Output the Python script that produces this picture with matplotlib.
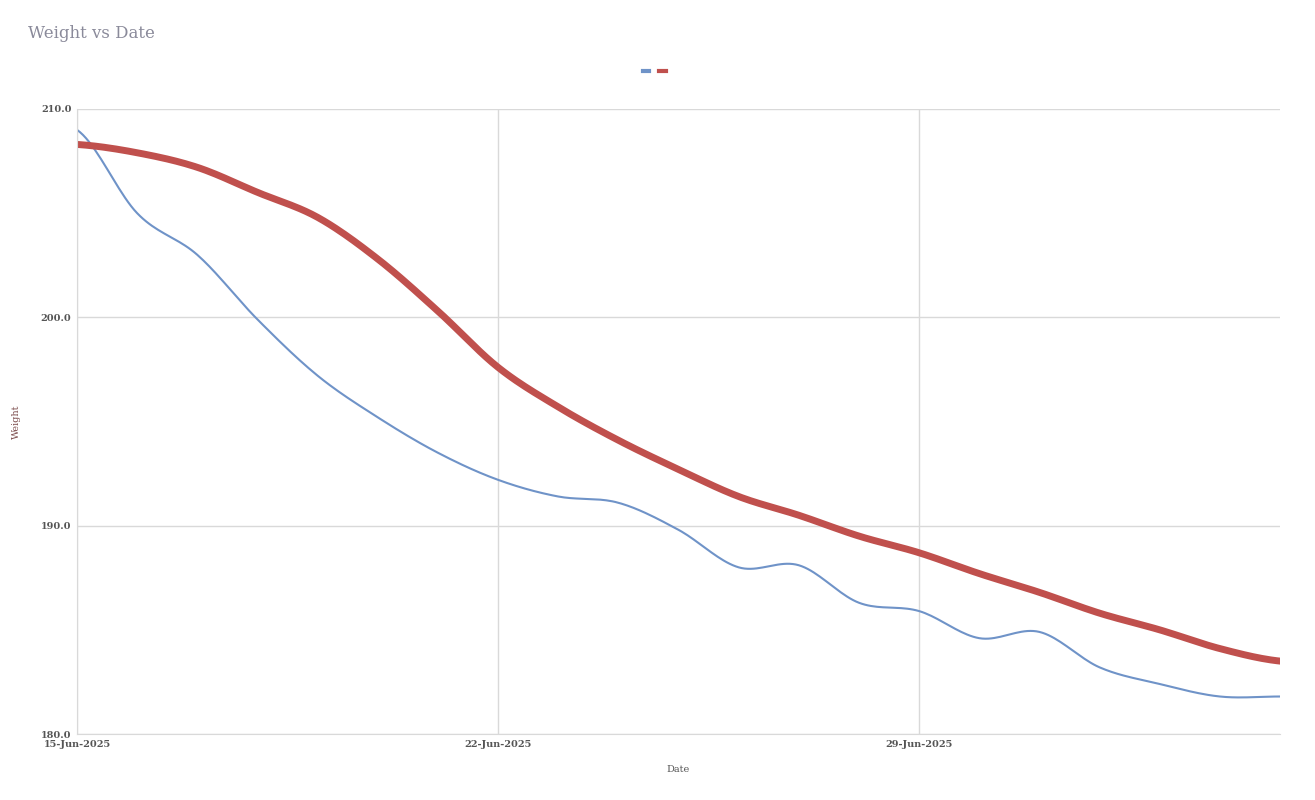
import numpy as np
import matplotlib
matplotlib.use("Agg")
import matplotlib.pyplot as plt
from matplotlib.lines import Line2D

days = list(range(21))  # days after 15-Jun-2025
weight = [209.0, 205.0, 203.0, 199.9, 197.2, 195.2, 193.5, 192.2, 191.4, 191.1, 189.8,
          188.0, 188.1, 186.3, 185.9, 184.6, 184.9, 183.2, 182.4, 181.8, 181.8]
trend = [208.3, 207.9, 207.2, 206.0, 204.8, 202.8, 200.3, 197.6, 195.7, 194.1, 192.7,
         191.4, 190.5, 189.5, 188.7, 187.7, 186.8, 185.8, 185.0, 184.1, 183.5]
xtick_labels = ["15-Jun-2025", "22-Jun-2025", "29-Jun-2025"]
ytick_vals = [180.0, 190.0, 200.0, 210.0]

def smooth(x, y, n=20):
    x = np.asarray(x, float); y = np.asarray(y, float)
    xs, ys = [], []
    for i in range(len(x) - 1):
        p0 = y[max(i - 1, 0)]; p1 = y[i]; p2 = y[i + 1]; p3 = y[min(i + 2, len(y) - 1)]
        t = np.linspace(0, 1, n, endpoint=False)
        yy = 0.5 * ((2 * p1) + (-p0 + p2) * t + (2 * p0 - 5 * p1 + 4 * p2 - p3) * t**2
                    + (-p0 + 3 * p1 - 3 * p2 + p3) * t**3)
        xs.append(x[i] + t * (x[i + 1] - x[i])); ys.append(yy)
    xs.append([x[-1]]); ys.append([y[-1]])
    return np.concatenate(xs), np.concatenate(ys)

plt.rcParams['font.family'] = ['DejaVu Serif']
fig = plt.figure(figsize=(13.15, 8.0), dpi=100)
ax = fig.add_axes([77/1315, 1 - 734/800, (1280 - 77)/1315, (734 - 109)/800])

bx, by = smooth(days, weight)
rx, ry = smooth(days, trend)
ax.plot(bx, by, color="#6f93c8", lw=1.5)
ax.plot(rx, ry, color="#c0504d", lw=5)

ax.set_xlim(0, 20)
ax.set_ylim(180, 210)
ax.set_xticks([0, 7, 14])
ax.set_xticklabels(xtick_labels, fontsize=7, color="#555555", fontweight="bold")
ax.set_yticks(ytick_vals)
ax.set_yticklabels([f"{v:.1f}" for v in ytick_vals], fontsize=7, color="#555555", fontweight="bold")
ax.tick_params(length=0, pad=4)
ax.grid(True, color="#d9d9d9", lw=1)
for s in ["top", "right"]:
    ax.spines[s].set_visible(False)
ax.spines["left"].set_color("#d9d9d9")
ax.spines["bottom"].set_color("#d9d9d9")
ax.set_xlabel("Date", fontsize=7, color="#555555", labelpad=12)
ax.set_ylabel("Weight", fontsize=7, color="#7a4a4a", labelpad=14)

fig.text(28/1315, 1 - 33/800, "Weight vs Date", fontsize=12, color="#8a8a9a", va="center")
handles = [Line2D([], [], color="#6f93c8", lw=3), Line2D([], [], color="#c0504d", lw=3)]
fig.legend(handles, ["", ""], loc="center", bbox_to_anchor=(655/1315, 1 - 72/800), ncol=2,
           frameon=False, handlelength=0.5, columnspacing=0.6, handletextpad=0.1)
fig.savefig("out.png", dpi=100)
